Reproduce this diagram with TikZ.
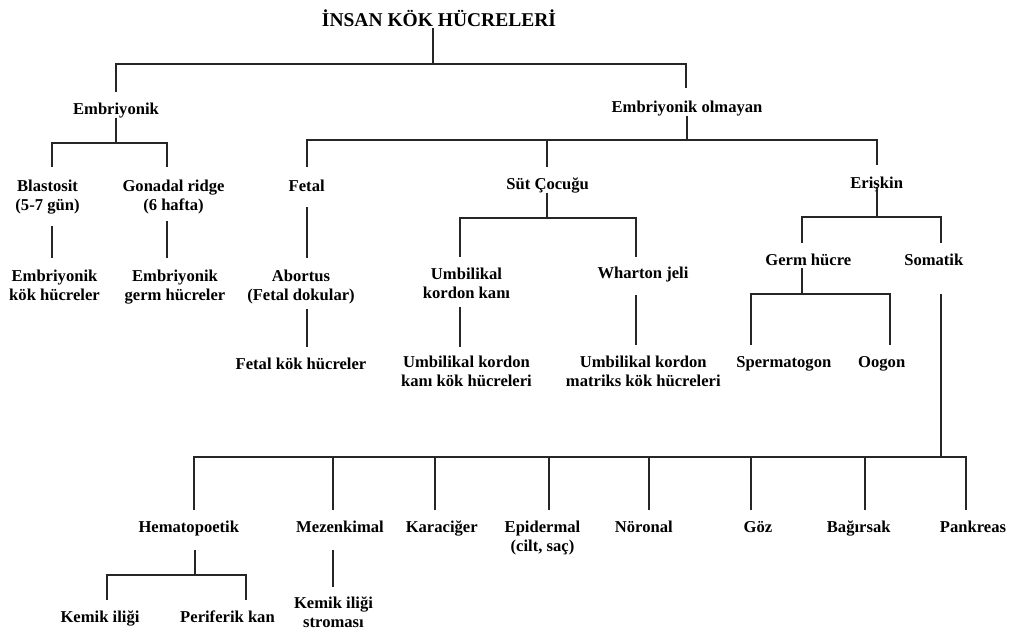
\documentclass[tikz,border=0pt]{standalone}
\usepackage{fontspec}
\setmainfont{Liberation Serif}
\begin{document}
\begin{tikzpicture}[x=1pt,y=-1pt,
  tx/.style={font=\fontsize{16.6}{19.5}\selectfont\bfseries, align=center, inner sep=0pt, outer sep=0pt, anchor=north},
  tx1/.style={tx, text height=11.3pt},
  ttl/.style={font=\fontsize{19.5}{22}\selectfont\bfseries, inner sep=0pt, outer sep=0pt, anchor=base},
  conn/.style={line width=1.2pt, black!85}]
\useasboundingbox (0,0) rectangle (1011,632);
% nodes
\node[ttl] (title) at (439,26) {İNSAN KÖK HÜCRELERİ};
\node[tx1] (emb) at (116,102.7) {Embriyonik};
\node[tx1] (eo) at (687,100.7) {Embriyonik olmayan};
\node[tx] (blast) at (47.5,179.7) {Blastosit\\(5-7 gün)};
\node[tx] (gonad) at (173.5,179.7) {Gonadal ridge\\(6 hafta)};
\node[tx1] (fetal) at (306.7,179.7) {Fetal};
\node[tx1] (sut) at (547.7,177.7) {Süt Çocuğu};
\node[tx1] (erisk) at (876.7,176.7) {Erişkin};
\node[tx] (ekh) at (54.5,269.7) {Embriyonik\\kök hücreler};
\node[tx] (egh) at (175,269.7) {Embriyonik\\germ hücreler};
\node[tx] (abort) at (301,269.7) {Abortus\\(Fetal dokular)};
\node[tx] (umb) at (466.5,267.7) {Umbilikal\\kordon kanı};
\node[tx1] (wj) at (643,266.7) {Wharton jeli};
\node[tx1] (fkh) at (301,357.7) {Fetal kök hücreler};
\node[tx] (ukk) at (466.5,355.7) {Umbilikal kordon\\kanı kök hücreleri};
\node[tx] (ukm) at (643.3,355.7) {Umbilikal kordon\\matriks kök hücreleri};
\node[tx1] (germ) at (808.3,253.7) {Germ hücre};
\node[tx1] (som) at (933.8,253.7) {Somatik};
\node[tx1] (sperm) at (783.8,355.7) {Spermatogon};
\node[tx1] (oogon) at (881.7,355.7) {Oogon};
\node[tx1] (hem) at (188.8,520.7) {Hematopoetik};
\node[tx1] (mez) at (340,520.7) {Mezenkimal};
\node[tx1] (kar) at (441.7,520.7) {Karaciğer};
\node[tx] (epi) at (542.5,520.7) {Epidermal\\(cilt, saç)};
\node[tx1] (nor) at (643.8,520.7) {Nöronal};
\node[tx1] (goz) at (758,520.7) {Göz};
\node[tx1] (bag) at (858.7,520.7) {Bağırsak};
\node[tx1] (pank) at (973,520.7) {Pankreas};
\node[tx1] (kem) at (100,610.7) {Kemik iliği};
\node[tx1] (per) at (227.5,610.7) {Periferik kan};
\node[tx] (kis) at (333.5,596.7) {Kemik iliği\\stroması};
% junction coordinates
\coordinate (jTop) at (433,64);
\coordinate (d-emb) at (116,64);
\coordinate (d-eo) at (686,64);
\coordinate (jEmb) at (116,143);
\coordinate (d-blast) at (52,143);
\coordinate (d-gonad) at (167,143);
\coordinate (jEo) at (687,140);
\coordinate (d-fetal) at (307,140);
\coordinate (d-sut) at (547,140);
\coordinate (d-erisk) at (877,140);
\coordinate (jSut) at (547,218);
\coordinate (d-umb) at (460,218);
\coordinate (d-wj) at (636,218);
\coordinate (jEr) at (877,217);
\coordinate (d-germ) at (802,217);
\coordinate (d-som) at (941,217);
\coordinate (jGerm) at (802,294);
\coordinate (d-sperm) at (751,294);
\coordinate (d-oogon) at (890,294);
\coordinate (jSom) at (941,457);
\coordinate (d-hem) at (194,457);
\coordinate (d-mez) at (333,457);
\coordinate (d-kar) at (435,457);
\coordinate (d-epi) at (549,457);
\coordinate (d-nor) at (649,457);
\coordinate (d-goz) at (751,457);
\coordinate (d-bag) at (865,457);
\coordinate (d-pank) at (966,457);
\coordinate (jHem) at (195,575);
\coordinate (d-kem) at (107,575);
\coordinate (d-per) at (246,575);
% connectors
\begin{scope}[conn]
\draw[shorten <=2pt] (title.south -| jTop) -- (jTop);
\draw[shorten <=10.7pt, shorten >=12.7pt] (emb.north -| d-emb) -- (d-emb) -- (d-eo) -- (eo.north -| d-eo);
% Embriyonik
\draw (emb.south -| jEmb) -- (jEmb);
\draw[shorten <=12.7pt, shorten >=12.7pt] (blast.north -| d-blast) -- (d-blast) -- (d-gonad) -- (gonad.north -| d-gonad);
\draw[shorten <=11.6pt, shorten >=11.7pt] (blast.south -| d-blast) -- (ekh.north -| d-blast);
\draw[shorten <=6.6pt, shorten >=11.7pt] (gonad.south -| d-gonad) -- (egh.north -| d-gonad);
% Embriyonik olmayan
\draw (eo.south -| jEo) -- (jEo);
\draw[shorten <=12.7pt, shorten >=11.7pt] (fetal.north -| d-fetal) -- (d-fetal) -- (d-erisk) -- (erisk.north -| d-erisk);
\draw[shorten >=10.7pt] (d-sut) -- (sut.north -| d-sut);
% Fetal
\draw[shorten <=16pt, shorten >=11.7pt] (fetal.south -| d-fetal) -- (abort.north -| d-fetal);
\draw[shorten <=4.6pt, shorten >=10.7pt] (abort.south -| d-fetal) -- (fkh.north -| d-fetal);
% Sut Cocugu
\draw (sut.south -| jSut) -- (jSut);
\draw[shorten <=10.7pt, shorten >=9.7pt] (umb.north -| d-umb) -- (d-umb) -- (d-wj) -- (wj.north -| d-wj);
\draw[shorten <=8pt, shorten >=8.7pt] (umb.south -| d-umb) -- (ukk.north -| d-umb);
\draw[shorten <=13.4pt, shorten >=10.7pt] (wj.south -| d-wj) -- (ukm.north -| d-wj);
% Eriskin
\draw[shorten <=-3.5pt] (erisk.south -| jEr) -- (jEr);
\draw[shorten <=10.7pt, shorten >=10.7pt] (germ.north -| d-germ) -- (d-germ) -- (d-som) -- (som.north -| d-som);
% Germ hucre
\draw[shorten <=3pt] (germ.south -| jGerm) -- (jGerm);
\draw[shorten <=10.7pt, shorten >=10.7pt] (sperm.north -| d-sperm) -- (d-sperm) -- (d-oogon) -- (oogon.north -| d-oogon);
% Somatik
\draw[shorten <=29pt] (som.south -| jSom) -- (jSom);
\draw[shorten <=10.7pt, shorten >=10.7pt] (hem.north -| d-hem) -- (d-hem) -- (d-pank) -- (pank.north -| d-pank);
\draw[shorten >=10.7pt] (d-mez) -- (mez.north -| d-mez);
\draw[shorten >=10.7pt] (d-kar) -- (kar.north -| d-kar);
\draw[shorten >=10.7pt] (d-epi) -- (epi.north -| d-epi);
\draw[shorten >=10.7pt] (d-nor) -- (nor.north -| d-nor);
\draw[shorten >=10.7pt] (d-goz) -- (goz.north -| d-goz);
\draw[shorten >=10.7pt] (d-bag) -- (bag.north -| d-bag);
% Hematopoetik
\draw[shorten <=14.4pt] (hem.south -| jHem) -- (jHem);
\draw[shorten <=10.7pt, shorten >=10.7pt] (kem.north -| d-kem) -- (d-kem) -- (d-per) -- (per.north -| d-per);
% Mezenkimal
\draw[shorten <=18pt, shorten >=9.7pt] (mez.south -| d-mez) -- (kis.north -| d-mez);
\end{scope}
\end{tikzpicture}
\end{document}
